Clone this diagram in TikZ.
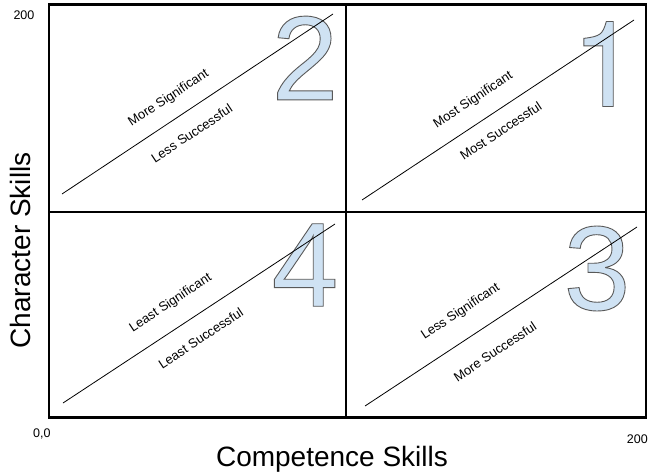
\documentclass[tikz,border=0pt]{standalone}
\usepackage{fontspec}
\setmainfont{Liberation Sans}
\newfontfamily\herosfont{TeX Gyre Heros}
\definecolor{numfill}{HTML}{CFE2F3}
\newcommand\outlinedigit[1]{\special{pdf:literal 2 Tr 0.9 w 0.35 0.35 0.35 RG}#1\special{pdf:literal 0 Tr 0 G}}
\begin{document}
\begin{tikzpicture}[x=1pt,y=-1pt,
  frame/.style={line width=2.7pt},
  diag/.style={line width=0.8pt},
  lbl/.style={font=\fontsize{13}{15}\selectfont, rotate=33.5, inner sep=0pt},
  bignum/.style={font=\fontsize{120}{120}\selectfont, text=numfill, inner sep=0pt},
  axislbl/.style={font=\fontsize{28}{30}\selectfont, inner sep=0pt},
  ticklbl/.style={font=\fontsize{12.5}{14}\selectfont, inner sep=0pt}]
\useasboundingbox (0,0) rectangle (648,474);
% frame
\coordinate (tl) at (49,4.5);
\coordinate (br) at (646,417.5);
\coordinate (tm) at (346,4.5);
\coordinate (bm) at (346,417.5);
\coordinate (ml) at (49,212);
\coordinate (mr) at (646,212);
% big numbers
\begin{scope}
\node[bignum] (n2) at (305,58) {\outlinedigit{2}};
\node[bignum, font=\fontsize{120}{120}\herosfont] (n1) at (605,64) {\outlinedigit{1}};
\node[bignum] (n4) at (305,265) {\outlinedigit{4}};
\node[bignum] (n3) at (597,268.5) {\outlinedigit{3}};
\end{scope}
\draw[frame] (tl) rectangle (br);
\draw[frame] (tm) -- (bm);
\draw[frame] (ml) -- (mr);
% diagonals
\coordinate (a2) at (62,194);  \coordinate (b2) at (333,14);
\coordinate (a1) at (362,200); \coordinate (b1) at (634,20);
\coordinate (a4) at (63,403);  \coordinate (b4) at (335,224);
\coordinate (a3) at (365,406); \coordinate (b3) at (637,227);
\draw[diag] (a2) -- (b2);
\draw[diag] (a1) -- (b1);
\draw[diag] (a4) -- (b4);
\draw[diag] (a3) -- (b3);
% labels
\node[lbl] (l2a) at (168.7,98.3) {More Significant};
\node[lbl] (l2b) at (191.7,133.3) {Less Successful};
\node[lbl] (l1a) at (473.3,100) {Most Significant};
\node[lbl] (l1b) at (500.7,130.7) {Most Successful};
\node[lbl] (l4a) at (170.7,303.3) {Least Significant};
\node[lbl] (l4b) at (200.7,338.3) {Least Successful};
\node[lbl] (l3a) at (460.7,311.7) {Less Significant};
\node[lbl] (l3b) at (495,351.7) {More Successful};
% ticks
\node[ticklbl, anchor=base west] (t200y) at (13.3,19) {200};
\node[ticklbl, anchor=base west] (t00) at (33,437.5) {0,0};
\node[ticklbl, anchor=base west] (t200x) at (626.7,443) {200};
% axis labels
\node[axislbl, anchor=base] (xl) at (332,466) {Competence Skills};
\node[axislbl, anchor=base, rotate=90] (yl) at (30.7,250.5) {Character Skills};
\end{tikzpicture}
\end{document}
